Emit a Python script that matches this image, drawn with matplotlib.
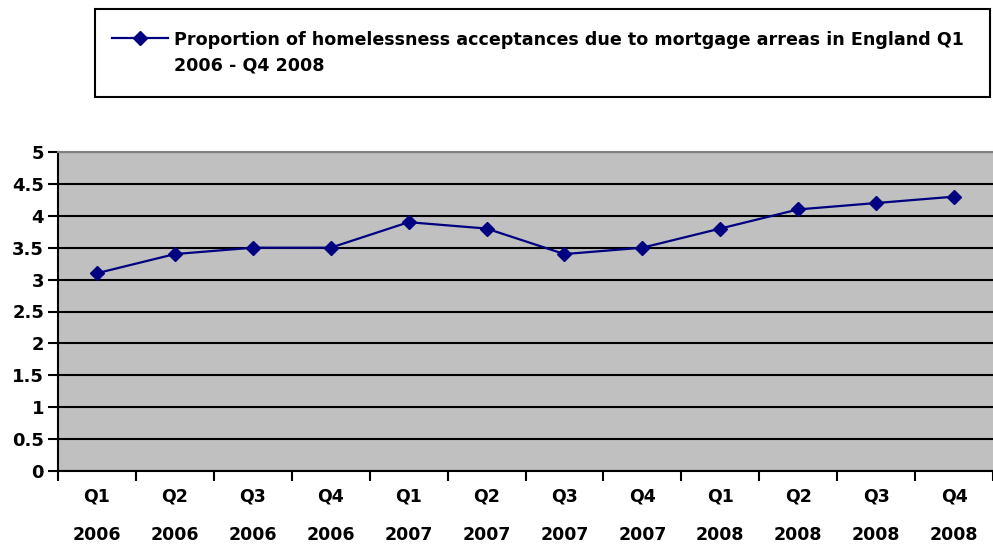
import matplotlib
matplotlib.use("Agg")
import matplotlib.pyplot as plt
from matplotlib.patches import Rectangle
from matplotlib.lines import Line2D
import numpy as np

plt.rcParams['font.family'] = ['DejaVu Sans']
plt.rcParams['font.weight'] = 'bold'

categories = ["Q1\n2006", "Q2\n2006", "Q3\n2006", "Q4\n2006",
              "Q1\n2007", "Q2\n2007", "Q3\n2007", "Q4\n2007",
              "Q1\n2008", "Q2\n2008", "Q3\n2008", "Q4\n2008"]
values = [3.1, 3.4, 3.5, 3.5, 3.9, 3.8, 3.4, 3.5, 3.8, 4.1, 4.2, 4.3]
yticks = [0, 0.5, 1, 1.5, 2, 2.5, 3, 3.5, 4, 4.5, 5]
ytick_labels = ["0", "0.5", "1", "1.5", "2", "2.5", "3", "3.5", "4", "4.5", "5"]
series_label = "Proportion of homelessness acceptances due to mortgage arreas in England Q1\n2006 - Q4 2008"

NAVY = '#000080'
W, H = 993, 544
fig = plt.figure(figsize=(W/100, H/100), dpi=100)
ax = fig.add_axes([58/W, 1-471/H, (W-58)/W, (471-152)/H])
ax.set_facecolor('#C0C0C0')

x = np.arange(len(values))
ax.plot(x, values, color=NAVY, lw=1.6, marker='D', ms=7.5,
        mec=NAVY, mfc=NAVY, zorder=3)

ax.set_xlim(-0.5, len(values)-0.5)
ax.set_ylim(0, 5)
ax.set_yticks(yticks)
ax.set_yticklabels(ytick_labels, fontsize=13, fontweight='bold')
ax.yaxis.grid(True, color='black', lw=1.5)
ax.set_axisbelow(True)

ax.set_xticks(x)
ax.set_xticklabels(categories, fontsize=12.5, fontweight='bold', linespacing=2.45)
ax.set_xticks(np.arange(-0.5, len(values), 1), minor=True)
ax.tick_params(axis='x', which='major', length=0, pad=12)
ax.tick_params(axis='x', which='minor', length=7, width=1.5, direction='out')
ax.tick_params(axis='y', length=7, width=1.5, direction='out', pad=3)

for s in ['left', 'bottom']:
    ax.spines[s].set_linewidth(1.5)
    ax.spines[s].set_color('black')
ax.spines['top'].set_color('#808080')
ax.spines['top'].set_linewidth(1.5)
ax.spines['right'].set_visible(False)

# legend box (drawn manually to match the reference layout)
fig.patches.append(Rectangle((95/W, 1-97/H), (990-95)/W, (97-9)/H,
                             transform=fig.transFigure, fill=False,
                             edgecolor='black', lw=1.5))
fig.add_artist(Line2D([112/W, 168/W], [1-38/H, 1-38/H], transform=fig.transFigure,
                      color=NAVY, lw=1.6))
fig.add_artist(Line2D([140/W], [1-38/H], transform=fig.transFigure,
                      color=NAVY, marker='D', ms=7.5, mec=NAVY, mfc=NAVY, lw=0))
fig.text(174/W, 1-31/H, series_label, fontsize=12.65, fontweight='bold',
         va='top', ha='left', linespacing=1.52)

fig.savefig("out.png", dpi=100)
